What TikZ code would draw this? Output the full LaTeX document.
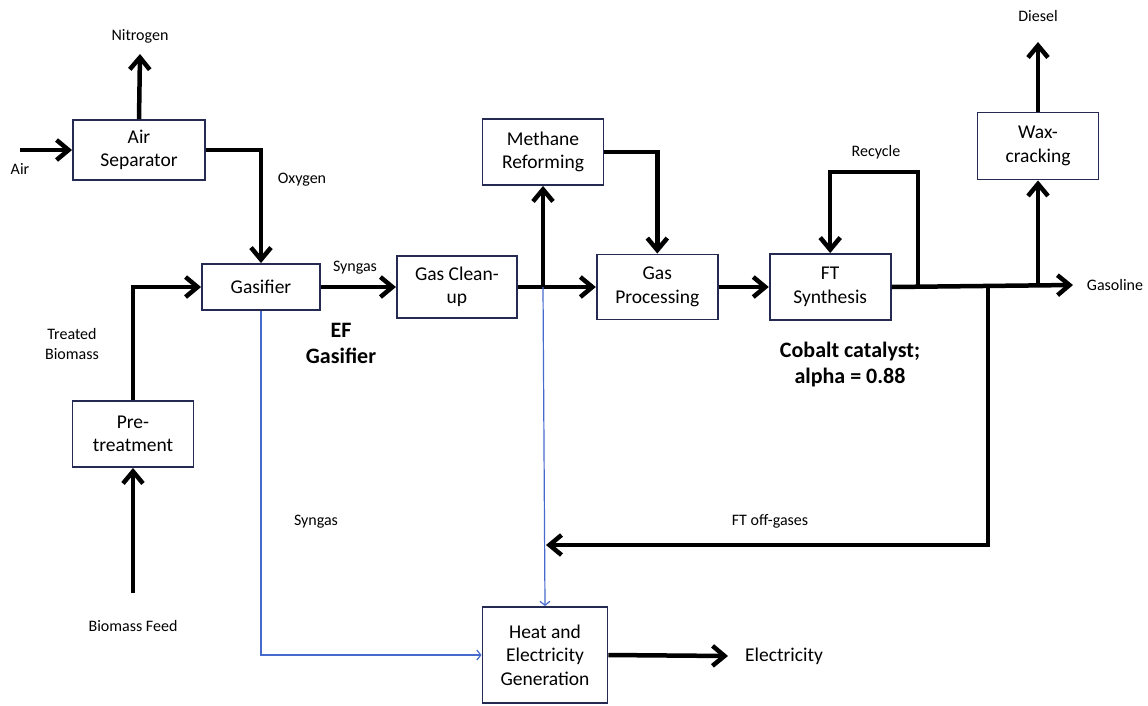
\documentclass[tikz,border=0pt]{standalone}
\usepackage{fontspec}
\setmainfont{Carlito}
\usetikzlibrary{positioning}
\usetikzlibrary{arrows.meta}
\definecolor{boxEdge}{RGB}{36,42,82}
\definecolor{elecBlue}{RGB}{70,105,205}
\tikzset{%
	% Specifications for the process units:
	base/.style = {rectangle, draw=boxEdge, line width=1.9pt, fill=white,
		minimum width=121pt, minimum height=65pt, inner sep=2pt,
		text centered, align=center, font=\fontsize{19.5}{23.5}\selectfont},
	% streams
	flow/.style = {line width=4.5pt, -{Straight Barb[length=12pt, width=20pt]}},
	power/.style = {elecBlue, line width=1.2pt, -{Straight Barb[length=4pt, width=10pt]}},
	stream/.style = {font=\fontsize{16}{19.5}\selectfont, align=center},
	note/.style = {font=\fontsize{22}{26}\selectfont\bfseries, align=center}
}
\begin{document}
\begin{tikzpicture}[x=1pt, y=-1pt]
	\useasboundingbox (0,0) rectangle (1148,705);
	%% front end
	\node [base, minimum width=132pt, minimum height=60pt] (airSep) at (139,150) {Air\\Separator};
	\node [base, minimum width=118pt, minimum height=46pt] (gasifier) at (261,287) {Gasifier};
	\node [base, minimum height=66pt] (preTreat) at (133,434) {Pre-\\treatment};
	\node [stream] (nitrogenLbl) at (140,36) {Nitrogen};
	\node [stream] (airLbl) at (20,169) {Air};
	\node [stream] (oxygenLbl) at (302,180) {Oxygen};
	\node [stream] (treatedLbl) at (72,344) {Treated\\Biomass};
	\node [stream] (feedLbl) at (133,626) {Biomass Feed};
	\node [note] (efLbl) at (341,343) {EF\\Gasifier};
	\coordinate (nitrogenEnd) at (140,54);
	\coordinate (airIn) at (20,150);
	\coordinate (feedIn) at (133,593);
	\draw[flow] (airIn) -- (airSep.west);
	\draw[flow] (airSep.north) -- (nitrogenEnd);
	\draw[flow] (airSep.east) -| (gasifier.north);
	\draw[flow] (feedIn) -- (preTreat.south);
	\draw[flow] (preTreat.north) |- (gasifier.west);
	%% gas train
	\node [base, minimum width=120pt, minimum height=62pt, right=75pt of gasifier] (gasClean) {Gas Clean-\\up};
	\node [base, right=78pt of gasClean] (gasProc) {Gas\\Processing};
	\node [base, minimum height=66pt] (methane) at (543,152) {Methane\\Reforming};
	\node [base, minimum height=66pt, right=50pt of gasProc] (ftSynth) {FT\\Synthesis};
	\node [base, minimum height=67pt] (waxCrack) at (1038,146) {Wax-\\cracking};
	\node [stream] (syngasLbl) at (355,268) {Syngas};
	\node [stream] (recycleLbl) at (876,152) {Recycle};
	\node [stream] (dieselLbl) at (1038,16) {Diesel};
	\node [stream] (gasolineLbl) at (1115,285) {Gasoline};
	\node [note] (cobaltLbl) at (850,365) {Cobalt catalyst;\\alpha = 0.88};
	\draw[flow] (gasifier.east) -- (gasClean.west);
	\coordinate (splitA) at (methane.south |- gasClean.east);
	\draw[flow] (gasClean.east) -- (gasProc.west);
	\draw[flow] (splitA) -- (methane.south);
	\draw[flow] (methane.east) -| (gasProc.north);
	\draw[flow] (gasProc.east) -- (ftSynth.west);
	%% products
	\coordinate (gasolineEnd) at (1073,285);
	\coordinate (recycleTap) at (918,285);
	\coordinate (recycleTop) at (918,172);
	\coordinate (offTap) at (988,285);
	\coordinate (waxTap) at (1038,285);
	\coordinate (dieselEnd) at (1038,42);
	\draw[flow] (ftSynth.east) -- (gasolineEnd);
	\draw[flow] (recycleTap) -- (recycleTop) -| (ftSynth.north);
	\draw[flow] (waxTap) -- (waxCrack.south);
	\draw[flow] (waxCrack.north) -- (dieselEnd);
	%% power block
	\node [base, minimum width=125pt, minimum height=96pt] (heatGen) at (545,655) {Heat and\\Electricity\\Generation};
	\node [stream] (offgasLbl) at (770,521) {FT off-gases};
	\node [stream] (syngasLowLbl) at (316,522) {Syngas};
	\node [font=\fontsize{19.5}{23.5}\selectfont] (elecLbl) at (784,656) {Electricity};
	\coordinate (offEnd) at (546,545);
	\coordinate (elecEnd) at (728,656);
	\draw[power] (splitA) -- (heatGen.north);
	\draw[power] (gasifier.south) |- (heatGen.west);
	\draw[flow] (offTap) |- (offEnd);
	\draw[flow] (heatGen.east) -- (elecEnd);
\end{tikzpicture}
\end{document}
